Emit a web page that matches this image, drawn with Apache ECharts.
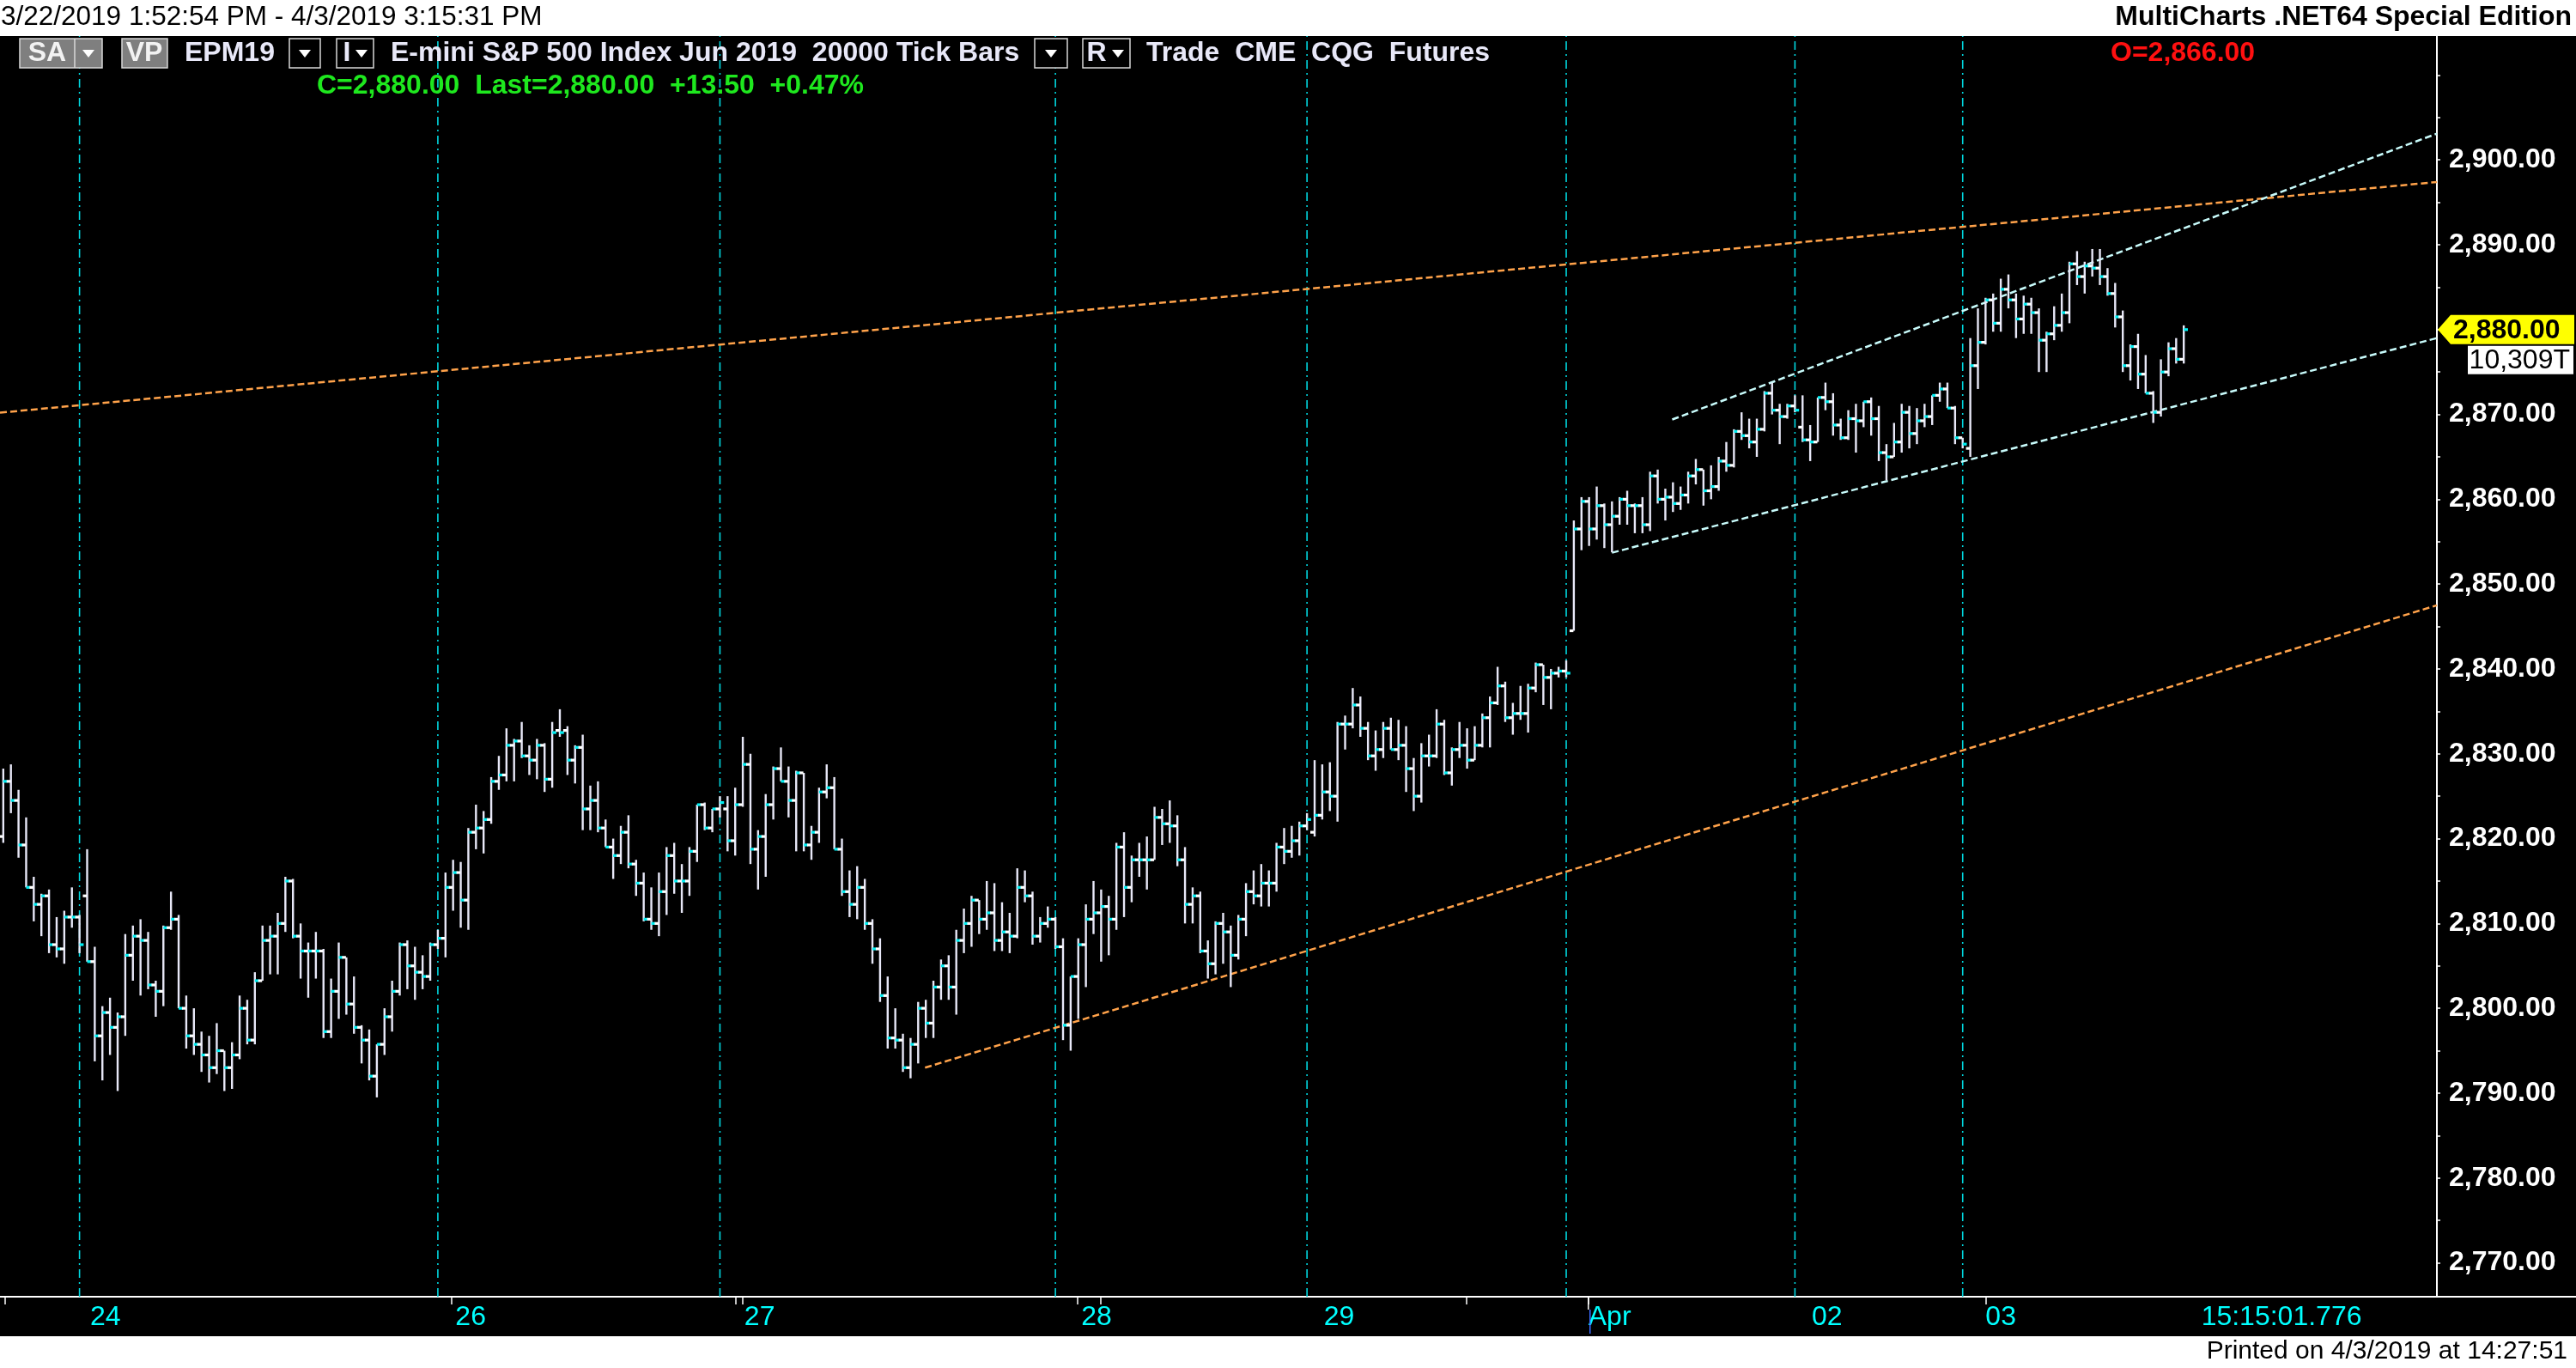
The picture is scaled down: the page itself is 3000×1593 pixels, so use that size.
<!DOCTYPE html>
<html>
<head>
<meta charset="utf-8">
<script src="https://cdn.jsdelivr.net/npm/echarts@6/dist/echarts.min.js"></script>
<style>
  html, body { margin: 0; padding: 0; background: #000; }
  #chart { width: 3000px; height: 1593px; }
</style>
</head>
<body>
<div id="chart"></div>
<script>
// EPM19, 20000 tick bars, one value per bar (bar 1 .. 287)
var opens = [
  2820.25, 2826.75, 2824.5, 2819.25, 2814.25, 2812.25, 2813.25, 2807.5, 2807.0, 2810.75,
  2810.75, 2813.25, 2805.5, 2796.75, 2799.5, 2797.75, 2799.0, 2806.25, 2808.5, 2808.0,
  2802.75, 2802.0, 2809.5, 2810.5, 2800.0, 2796.75, 2795.75, 2794.5, 2793.0, 2795.0,
  2793.0, 2794.5, 2800.0, 2796.25, 2803.25, 2808.0, 2808.5, 2810.0, 2815.0, 2808.5,
  2806.75, 2806.75, 2806.75, 2797.25, 2802.0, 2806.0, 2800.5, 2797.75, 2796.25, 2792.0,
  2795.75, 2799.0, 2802.0, 2807.5, 2805.0, 2804.25, 2803.75, 2807.5, 2808.25, 2814.25,
  2816.0, 2812.75, 2820.75, 2821.25, 2822.25, 2826.75, 2827.5, 2831.0, 2831.5, 2829.75,
  2829.25, 2831.0, 2827.0, 2832.75, 2832.75, 2829.25, 2830.75, 2823.5, 2824.5, 2821.25,
  2819.0, 2818.0, 2820.75, 2817.0, 2814.75, 2810.5, 2810.0, 2813.75, 2818.0, 2815.0,
  2815.0, 2818.5, 2824.0, 2821.25, 2823.5, 2823.5, 2819.75, 2824.0, 2828.75, 2818.75,
  2820.25, 2824.0, 2828.25, 2826.75, 2824.5, 2827.75, 2819.25, 2820.75, 2825.5, 2826.0,
  2818.75, 2813.75, 2812.25, 2814.25, 2810.0, 2807.0, 2801.5, 2796.5, 2796.25, 2793.0,
  2795.75, 2800.0, 2798.25, 2802.5, 2805.0, 2802.5, 2808.0, 2810.0, 2812.75, 2810.5,
  2811.25, 2808.0, 2809.0, 2808.5, 2814.25, 2813.25, 2808.5, 2810.0, 2810.5, 2807.25,
  2798.0, 2803.75, 2807.5, 2810.5, 2811.25, 2812.0, 2810.5, 2819.0, 2814.25, 2817.5,
  2817.5, 2817.5, 2822.5, 2821.75, 2821.5, 2817.5, 2812.25, 2813.25, 2806.75, 2805.25,
  2810.0, 2809.0, 2806.25, 2810.5, 2813.75, 2813.25, 2814.75, 2814.75, 2819.0, 2818.5,
  2819.75, 2821.5, 2820.75, 2822.75, 2825.5, 2825.0, 2833.5, 2833.5, 2835.75, 2833.0,
  2829.75, 2830.5, 2833.0, 2830.5, 2831.0, 2828.25, 2825.0, 2829.75, 2829.75, 2833.5,
  2827.75, 2830.5, 2831.0, 2829.25, 2831.0, 2834.25, 2836.0, 2838.0, 2834.25, 2834.75,
  2834.75, 2837.75, 2840.5, 2839.0, 2839.5, 2839.75, 2844.5, 2856.5, 2859.75, 2856.5,
  2859.25, 2857.0, 2858.0, 2860.0, 2859.25, 2859.25, 2857.0, 2862.75, 2860.0, 2860.25,
  2859.5, 2860.5, 2862.75, 2863.5, 2861.0, 2861.5, 2864.5, 2864.0, 2868.0, 2867.5,
  2866.75, 2868.25, 2872.5, 2870.5, 2869.75, 2871.0, 2868.5, 2867.0, 2866.75, 2872.0,
  2871.5, 2868.75, 2867.25, 2869.5, 2869.25, 2871.5, 2869.5, 2865.5, 2865.0, 2866.75,
  2870.25, 2867.75, 2869.25, 2869.75, 2872.25, 2873.0, 2870.75, 2867.25, 2866.0, 2875.75,
  2878.5, 2883.5, 2880.75, 2884.75, 2883.5, 2881.25, 2883.0, 2882.0, 2878.75, 2879.5,
  2880.5, 2882.0, 2887.75, 2886.25, 2887.5, 2887.25, 2886.25, 2884.25, 2881.5, 2875.75,
  2878.0, 2874.75, 2872.5, 2870.25, 2875.0, 2877.75, 2876.5
];
var highs = [
  2828.25, 2828.75, 2825.75, 2822.5, 2815.5, 2813.5, 2814.0, 2810.75, 2811.5, 2814.25,
  2811.0, 2818.75, 2807.25, 2800.25, 2801.25, 2799.5, 2808.75, 2809.75, 2810.5, 2809.0,
  2803.25, 2809.75, 2813.75, 2811.0, 2801.5, 2800.0, 2797.25, 2796.75, 2798.25, 2795.0,
  2796.0, 2801.5, 2801.0, 2804.25, 2809.75, 2809.75, 2811.25, 2815.5, 2815.25, 2810.0,
  2807.75, 2809.0, 2807.0, 2803.5, 2807.75, 2806.0, 2803.75, 2798.0, 2797.5, 2795.75,
  2800.0, 2803.25, 2807.75, 2808.0, 2807.25, 2806.25, 2807.75, 2809.25, 2816.0, 2817.5,
  2817.25, 2821.25, 2824.0, 2823.25, 2827.25, 2829.75, 2833.0, 2831.75, 2833.75, 2831.0,
  2831.75, 2831.25, 2833.75, 2835.25, 2833.25, 2831.0, 2832.25, 2826.25, 2826.75, 2822.25,
  2820.0, 2821.5, 2822.75, 2817.5, 2816.0, 2814.25, 2816.0, 2819.0, 2819.5, 2817.0,
  2819.0, 2824.0, 2824.25, 2823.5, 2825.0, 2825.0, 2826.0, 2832.0, 2830.0, 2821.0,
  2825.25, 2828.5, 2830.75, 2828.5, 2828.0, 2827.75, 2821.5, 2826.0, 2828.75, 2827.25,
  2820.0, 2816.25, 2816.75, 2815.25, 2810.5, 2808.25, 2803.75, 2800.0, 2797.0, 2796.5,
  2800.75, 2801.0, 2803.25, 2805.75, 2806.25, 2809.25, 2811.75, 2813.25, 2812.75, 2815.0,
  2814.75, 2812.5, 2811.25, 2816.5, 2816.25, 2813.75, 2810.75, 2812.0, 2810.75, 2808.25,
  2803.75, 2808.25, 2812.25, 2815.0, 2814.0, 2813.25, 2819.5, 2820.75, 2818.0, 2819.5,
  2820.25, 2823.75, 2823.5, 2824.5, 2822.75, 2819.0, 2814.25, 2813.75, 2808.0, 2810.25,
  2811.25, 2809.75, 2811.0, 2814.75, 2816.25, 2817.0, 2816.25, 2819.5, 2821.25, 2821.5,
  2822.0, 2823.0, 2829.25, 2828.75, 2829.0, 2833.75, 2834.5, 2837.75, 2836.75, 2833.75,
  2832.75, 2833.75, 2834.25, 2834.0, 2833.25, 2829.5, 2831.25, 2832.25, 2835.25, 2834.0,
  2830.75, 2833.75, 2833.0, 2833.25, 2834.75, 2836.75, 2840.25, 2838.5, 2836.0, 2838.0,
  2838.25, 2840.75, 2840.5, 2840.0, 2840.25, 2841.0, 2857.5, 2860.25, 2860.25, 2861.5,
  2859.5, 2859.75, 2860.25, 2861.0, 2859.5, 2860.25, 2863.25, 2863.5, 2861.25, 2862.0,
  2861.5, 2863.25, 2864.75, 2863.5, 2864.0, 2865.0, 2866.75, 2868.25, 2870.25, 2869.5,
  2869.5, 2872.75, 2873.75, 2871.25, 2871.25, 2872.25, 2872.25, 2868.75, 2872.0, 2873.75,
  2872.5, 2869.5, 2870.5, 2871.25, 2871.5, 2872.0, 2871.0, 2866.5, 2869.0, 2871.25,
  2871.0, 2870.75, 2871.25, 2872.25, 2873.75, 2873.75, 2871.0, 2867.25, 2879.0, 2882.5,
  2883.75, 2884.25, 2886.0, 2886.5, 2884.25, 2884.0, 2883.75, 2882.5, 2879.75, 2882.75,
  2884.25, 2888.0, 2889.25, 2888.0, 2889.5, 2889.5, 2887.25, 2885.5, 2882.25, 2878.25,
  2879.5, 2877.0, 2872.75, 2876.5, 2878.5, 2879.0, 2880.5
];
var lows = [
  2819.5, 2823.0, 2817.75, 2814.25, 2810.25, 2808.5, 2806.5, 2806.0, 2805.25, 2809.5,
  2806.5, 2805.5, 2793.75, 2791.5, 2794.5, 2790.25, 2796.75, 2803.25, 2801.5, 2802.25,
  2799.0, 2800.25, 2809.25, 2800.0, 2795.25, 2794.5, 2792.5, 2791.25, 2792.25, 2790.25,
  2790.5, 2794.0, 2795.75, 2795.75, 2803.25, 2804.0, 2804.0, 2809.0, 2808.25, 2803.5,
  2801.25, 2803.5, 2796.5, 2796.5, 2798.75, 2799.25, 2797.0, 2793.5, 2791.5, 2789.5,
  2794.5, 2797.25, 2801.5, 2802.25, 2801.0, 2802.25, 2803.25, 2807.0, 2806.0, 2811.5,
  2809.5, 2809.25, 2818.75, 2818.25, 2821.75, 2825.75, 2826.75, 2826.75, 2829.5, 2827.5,
  2827.0, 2825.5, 2826.0, 2832.0, 2827.5, 2826.5, 2821.0, 2821.0, 2820.75, 2819.0,
  2815.25, 2817.0, 2816.5, 2813.25, 2810.25, 2809.25, 2808.5, 2811.0, 2813.5, 2811.25,
  2813.25, 2817.25, 2821.0, 2820.75, 2822.5, 2818.5, 2818.0, 2823.75, 2817.0, 2814.0,
  2815.5, 2822.25, 2826.75, 2822.5, 2818.5, 2818.5, 2817.5, 2819.5, 2824.75, 2818.75,
  2813.25, 2810.75, 2810.5, 2809.25, 2805.25, 2800.75, 2795.25, 2795.25, 2792.5, 2791.75,
  2793.5, 2796.5, 2796.5, 2801.0, 2801.0, 2799.25, 2806.5, 2807.25, 2808.75, 2809.25,
  2806.75, 2806.75, 2806.5, 2808.25, 2812.5, 2807.5, 2807.75, 2809.5, 2807.0, 2796.25,
  2795.0, 2798.75, 2802.5, 2808.75, 2805.5, 2806.25, 2809.25, 2810.75, 2812.5, 2815.5,
  2814.0, 2817.5, 2819.25, 2819.5, 2816.75, 2810.0, 2810.0, 2806.5, 2803.5, 2804.0,
  2805.25, 2802.5, 2805.75, 2808.5, 2812.25, 2812.0, 2812.0, 2813.75, 2817.0, 2817.75,
  2818.0, 2821.0, 2820.25, 2822.25, 2823.25, 2822.0, 2830.5, 2833.0, 2832.0, 2829.25,
  2828.0, 2829.5, 2830.5, 2829.25, 2825.5, 2823.25, 2824.25, 2828.5, 2829.5, 2827.5,
  2826.25, 2829.5, 2828.25, 2829.25, 2830.75, 2830.75, 2835.75, 2833.75, 2832.25, 2834.0,
  2832.5, 2837.25, 2835.75, 2835.25, 2839.0, 2839.0, 2844.5, 2854.0, 2854.5, 2855.25,
  2854.25, 2853.75, 2857.0, 2857.0, 2856.0, 2856.0, 2856.25, 2859.5, 2857.5, 2858.5,
  2858.75, 2859.5, 2861.75, 2859.25, 2860.0, 2861.0, 2863.25, 2863.75, 2867.0, 2866.0,
  2865.0, 2868.0, 2870.0, 2866.5, 2869.5, 2870.25, 2866.75, 2864.5, 2866.75, 2870.5,
  2867.5, 2867.0, 2867.0, 2865.5, 2868.5, 2867.5, 2864.5, 2862.25, 2865.0, 2865.5,
  2866.0, 2866.5, 2868.5, 2868.75, 2871.5, 2870.75, 2866.5, 2866.0, 2865.0, 2873.0,
  2878.25, 2879.75, 2879.75, 2882.5, 2879.0, 2879.5, 2879.5, 2875.0, 2875.0, 2878.75,
  2879.75, 2880.75, 2885.25, 2884.25, 2886.25, 2885.25, 2884.0, 2880.25, 2875.0, 2874.0,
  2873.0, 2872.5, 2869.0, 2869.75, 2874.5, 2876.0, 2876.0
];
var closes = [
  2826.75, 2824.5, 2819.25, 2814.25, 2812.25, 2813.25, 2807.5, 2807.0, 2810.75, 2810.75,
  2807.5, 2805.5, 2796.75, 2799.5, 2797.75, 2799.0, 2806.25, 2808.5, 2808.0, 2802.75,
  2802.0, 2809.5, 2810.5, 2800.0, 2796.75, 2795.75, 2794.5, 2793.0, 2795.0, 2793.0,
  2794.5, 2800.0, 2796.25, 2803.25, 2808.0, 2808.5, 2810.0, 2815.0, 2808.5, 2806.75,
  2806.75, 2806.75, 2797.25, 2802.0, 2806.0, 2800.5, 2797.75, 2796.25, 2792.0, 2795.75,
  2799.0, 2802.0, 2807.5, 2805.0, 2804.25, 2803.75, 2807.5, 2808.25, 2814.25, 2816.0,
  2812.75, 2820.75, 2821.25, 2822.25, 2826.75, 2827.5, 2831.0, 2831.5, 2829.75, 2829.25,
  2831.0, 2827.0, 2832.5, 2832.5, 2829.25, 2830.75, 2823.5, 2824.5, 2821.25, 2819.0,
  2818.0, 2820.75, 2817.0, 2814.75, 2810.5, 2810.0, 2813.75, 2818.0, 2815.0, 2815.0,
  2818.5, 2824.0, 2821.25, 2823.5, 2824.25, 2819.75, 2824.0, 2828.75, 2818.75, 2820.25,
  2824.0, 2828.25, 2826.75, 2824.5, 2827.75, 2819.25, 2820.75, 2825.5, 2826.0, 2818.75,
  2813.75, 2812.25, 2814.25, 2810.0, 2807.0, 2801.5, 2796.5, 2796.25, 2793.0, 2795.75,
  2800.0, 2798.25, 2802.5, 2805.0, 2802.5, 2808.0, 2810.0, 2812.75, 2810.5, 2811.25,
  2808.0, 2809.0, 2808.5, 2814.25, 2813.25, 2808.5, 2810.0, 2810.5, 2807.25, 2798.0,
  2803.75, 2807.5, 2810.5, 2811.25, 2812.0, 2810.5, 2819.0, 2814.25, 2817.5, 2817.5,
  2817.5, 2822.5, 2821.75, 2821.5, 2817.5, 2812.25, 2813.25, 2806.75, 2805.25, 2810.0,
  2809.0, 2806.25, 2810.5, 2813.75, 2813.25, 2814.75, 2814.75, 2819.0, 2818.5, 2819.75,
  2821.5, 2822.25, 2822.75, 2825.5, 2825.0, 2833.5, 2833.5, 2835.75, 2833.0, 2829.75,
  2830.5, 2833.0, 2830.5, 2831.0, 2828.25, 2825.0, 2829.75, 2829.75, 2833.5, 2827.75,
  2830.5, 2831.0, 2829.25, 2831.0, 2834.25, 2836.0, 2838.0, 2834.25, 2834.75, 2834.75,
  2837.75, 2840.5, 2839.0, 2839.5, 2839.75, 2839.5, 2856.5, 2859.75, 2856.5, 2859.25,
  2857.0, 2858.0, 2860.0, 2859.25, 2859.25, 2857.0, 2862.75, 2860.0, 2860.25, 2859.5,
  2860.5, 2862.75, 2863.5, 2861.0, 2861.5, 2864.5, 2864.0, 2868.0, 2867.5, 2866.75,
  2868.25, 2872.5, 2870.5, 2869.75, 2871.0, 2870.5, 2867.0, 2866.75, 2872.0, 2871.5,
  2868.75, 2867.25, 2869.5, 2869.25, 2871.5, 2869.5, 2865.5, 2865.0, 2866.75, 2870.25,
  2867.75, 2869.25, 2869.75, 2872.25, 2873.0, 2870.75, 2867.25, 2866.5, 2875.75, 2878.5,
  2883.5, 2880.75, 2884.75, 2883.5, 2881.25, 2883.0, 2882.0, 2878.75, 2879.5, 2880.5,
  2882.0, 2887.75, 2886.25, 2887.5, 2887.25, 2886.25, 2884.25, 2881.5, 2875.75, 2878.0,
  2874.75, 2872.5, 2870.25, 2875.0, 2877.75, 2876.5, 2880.0
];

// bars that close a session (dash-dot separators)
var sessionBars = [11, 58, 95, 139, 172, 206, 236, 258];

// time axis: label positions in bar units and texts
var dayLabelPos = [12.4, 60.3, 98.2, 142.4, 174.2, 208.9, 238.2, 261.0, 289.3];
var dayLabels = ['24', '26', '27', '28', '29', 'Apr', '02', '03', '15:15:01.776'];
var timeTicks = [1.25, 59.8, 97.1, 98.0, 141.9, 144.9, 192.9, 208.9, 261.0];

// price axis
var priceLabels = [2770, 2780, 2790, 2800, 2810, 2820, 2830, 2840, 2850, 2860, 2870, 2880, 2890, 2900];
var priceTicks = [2770, 2775, 2780, 2785, 2790, 2795, 2800, 2805, 2810, 2815, 2820, 2825, 2830, 2835,
                  2840, 2845, 2850, 2855, 2860, 2865, 2870, 2875, 2880, 2885, 2890, 2895, 2900, 2905, 2910];

// drawn trend lines, [bar, price] end points
var orangeUpper = [[0.57, 2870.2], [320.2, 2897.4]];
var orangeLower = [[121.9, 2793.0], [320.2, 2847.5]];
var channelUpper = [[219.9, 2869.4], [320.2, 2903.1]];
var channelLower = [[212.0, 2853.7], [320.2, 2879.0]];

var lastPrice = 2880.00;
var lastVolume = '10,309T';

var X_MIN = 0.57, X_MAX = 320.2, Y_MIN = 2766.0, Y_MAX = 2914.6;
var FONT = "'Liberation Sans', Arial, sans-serif";

function fmtPrice(v) {
  var s = v.toFixed(2);
  var parts = s.split('.');
  parts[0] = parts[0].replace(/\B(?=(\d{3})+(?!\d))/g, ',');
  return parts.join('.');
}

var barData = opens.map(function (o, i) {
  return [i + 1, o, highs[i], lows[i], closes[i]];
});

// OHLC bar: white stem, white open tick left, cyan close tick right
function renderBar(params, api) {
  var i = api.value(0);
  var o = api.coord([i, api.value(1)]);
  var h = api.coord([i, api.value(2)]);
  var l = api.coord([i, api.value(3)]);
  var c = api.coord([i, api.value(4)]);
  return {
    type: 'group',
    children: [
      { type: 'rect', shape: { x: h[0] - 1.2, y: h[1], width: 2.4, height: Math.max(l[1] - h[1], 1) }, style: { fill: '#e8e8f8' } },
      { type: 'rect', shape: { x: o[0] - 5, y: o[1] - 1.6, width: 4.5, height: 3.2 }, style: { fill: '#ffffff' } },
      { type: 'rect', shape: { x: c[0], y: c[1] - 1.6, width: 4.8, height: 3.2 }, style: { fill: '#00f0f4' } }
    ]
  };
}

function lineSeries(points, color, dash, width) {
  return {
    type: 'line',
    data: points,
    symbol: 'none',
    silent: true,
    animation: false,
    z: 1,
    lineStyle: { color: color, type: dash, width: width }
  };
}

var series = [];
sessionBars.forEach(function (b) {
  series.push(lineSeries([[b, Y_MIN], [b, Y_MAX]], '#00d8e0', [10, 5, 2, 5], 1.6));
});
series.push(lineSeries(orangeUpper, '#ffa24a', [8, 4], 2.5));
series.push(lineSeries(orangeLower, '#ffa24a', [8, 4], 2.5));
series.push(lineSeries(channelUpper, '#c8fbfb', [8, 4], 2.5));
series.push(lineSeries(channelLower, '#c8fbfb', [8, 4], 2.5));
series.push({
  type: 'custom',
  renderItem: renderBar,
  data: barData,
  encode: { x: 0, y: [1, 2, 3, 4] },
  clip: true,
  z: 3,
  animation: false
});

var chart = echarts.init(document.getElementById('chart'));

var option = {
  backgroundColor: '#000000',
  animation: false,
  grid: { left: 0, right: 162, top: 42, bottom: 83, containLabel: false },
  xAxis: {
    type: 'value',
    min: X_MIN,
    max: X_MAX,
    position: 'bottom',
    splitLine: { show: false },
    axisLine: { show: true, lineStyle: { color: '#ffffff', width: 2 } },
    axisTick: { show: true, inside: false, length: 9, customValues: timeTicks, lineStyle: { color: '#ffffff', width: 1.5 } },
    axisLabel: {
      customValues: dayLabelPos,
      color: '#00ffff',
      fontFamily: FONT,
      fontSize: 32,
      align: 'left',
      margin: 8,
      formatter: function (v) {
        var k = dayLabelPos.indexOf(v);
        return k >= 0 ? dayLabels[k] : '';
      }
    }
  },
  yAxis: {
    type: 'value',
    position: 'right',
    min: Y_MIN,
    max: Y_MAX,
    splitLine: { show: false },
    axisLine: { show: true, lineStyle: { color: '#ffffff', width: 2 } },
    axisTick: { show: true, inside: false, length: 4, customValues: priceTicks, lineStyle: { color: '#ffffff', width: 1.5 } },
    axisLabel: {
      customValues: priceLabels,
      color: '#ffffff',
      fontFamily: FONT,
      fontWeight: 'bold',
      fontSize: 32,
      margin: 14,
      formatter: function (v) { return fmtPrice(v); }
    }
  },
  series: series
};
chart.setOption(option);

// header, footer and last price marker
function arrow(cx, cy) {
  return { type: 'polygon', shape: { points: [[cx - 7, cy - 4], [cx + 7, cy - 4], [cx, cy + 5]] }, style: { fill: '#ffffff' } };
}
function box(x, w, fill) {
  return { type: 'rect', shape: { x: x, y: 45, width: w, height: 34 }, style: { fill: fill, stroke: '#d8d8d8', lineWidth: 1.5 } };
}
function txt(x, y, s, color, size, weight, align) {
  return {
    type: 'text', x: x, y: y,
    style: { text: s, fill: color, font: (weight || 'normal') + ' ' + size + 'px ' + FONT, align: align || 'left', verticalAlign: 'middle' }
  };
}

var yLast = chart.convertToPixel({ yAxisIndex: 0 }, lastPrice);
var xApr = chart.convertToPixel({ xAxisIndex: 0 }, dayLabelPos[5]);

var graphics = [
  { type: 'rect', shape: { x: 0, y: 0, width: 3000, height: 42 }, style: { fill: '#ffffff' } },
  { type: 'rect', shape: { x: 0, y: 1556, width: 3000, height: 37 }, style: { fill: '#ffffff' } },
  txt(1, 20, '3/22/2019 1:52:54 PM - 4/3/2019 3:15:31 PM', '#000000', 31.5),
  txt(2995, 20, 'MultiCharts .NET64 Special Edition', '#000000', 32, 'bold', 'right'),
  txt(2990, 1574, 'Printed on 4/3/2019 at 14:27:51', '#000000', 30, 'normal', 'right'),
  { type: 'line', shape: { x1: 2838, y1: 1510, x2: 3000, y2: 1510 }, style: { stroke: '#ffffff', lineWidth: 2 } },
  { type: 'line', shape: { x1: xApr, y1: 1510, x2: xApr, y2: 1525 }, style: { stroke: '#ffffff', lineWidth: 1.5 } },
  { type: 'line', shape: { x1: xApr + 2, y1: 1525, x2: xApr + 2, y2: 1553 }, style: { stroke: '#3a6cff', lineWidth: 1.5 } },

  box(23, 96, '#7f7f7f'),
  { type: 'line', shape: { x1: 87, y1: 45, x2: 87, y2: 79 }, style: { stroke: '#d8d8d8', lineWidth: 1.5 } },
  txt(55, 62, 'SA', '#f2f2f2', 32, 'bold', 'center'),
  arrow(103, 62),
  box(142, 53, '#7f7f7f'),
  txt(168, 62, 'VP', '#f2f2f2', 32, 'bold', 'center'),
  txt(215, 62, 'EPM19', '#e8e8f8', 32, 'bold'),
  box(337, 36, '#000000'),
  arrow(355, 62),
  box(392, 43, '#000000'),
  txt(404, 62, 'I', '#e8e8f8', 32, 'bold', 'center'),
  arrow(421, 62),
  txt(455, 62, 'E-mini S&P 500 Index Jun 2019  20000 Tick Bars', '#e8e8f8', 32, 'bold'),
  box(1205, 38, '#000000'),
  arrow(1224, 62),
  box(1261, 55, '#000000'),
  txt(1277, 62, 'R', '#e8e8f8', 32, 'bold', 'center'),
  arrow(1302, 62),
  txt(1335, 62, 'Trade  CME  CQG  Futures', '#e8e8f8', 32, 'bold'),
  txt(2458, 62, 'O=2,866.00', '#ff1010', 32, 'bold'),
  txt(369, 100, 'C=2,880.00  Last=2,880.00  +13.50  +0.47%', '#1ee81e', 32, 'bold'),

  { type: 'polygon', shape: { points: [[2839, yLast], [2854, yLast - 17], [2998, yLast - 17], [2998, yLast + 17], [2854, yLast + 17]] }, style: { fill: '#ffff00' } },
  txt(2857, yLast + 1, fmtPrice(lastPrice), '#000000', 32, 'bold'),
  { type: 'rect', shape: { x: 2874, y: yLast + 19, width: 123, height: 33 }, style: { fill: '#ffffff' } },
  txt(2993, yLast + 36, lastVolume, '#000000', 32, 'normal', 'right')
];
graphics.forEach(function (g) { g.z = 100; g.silent = true; });
chart.setOption({ graphic: graphics });
</script>
</body>
</html>
